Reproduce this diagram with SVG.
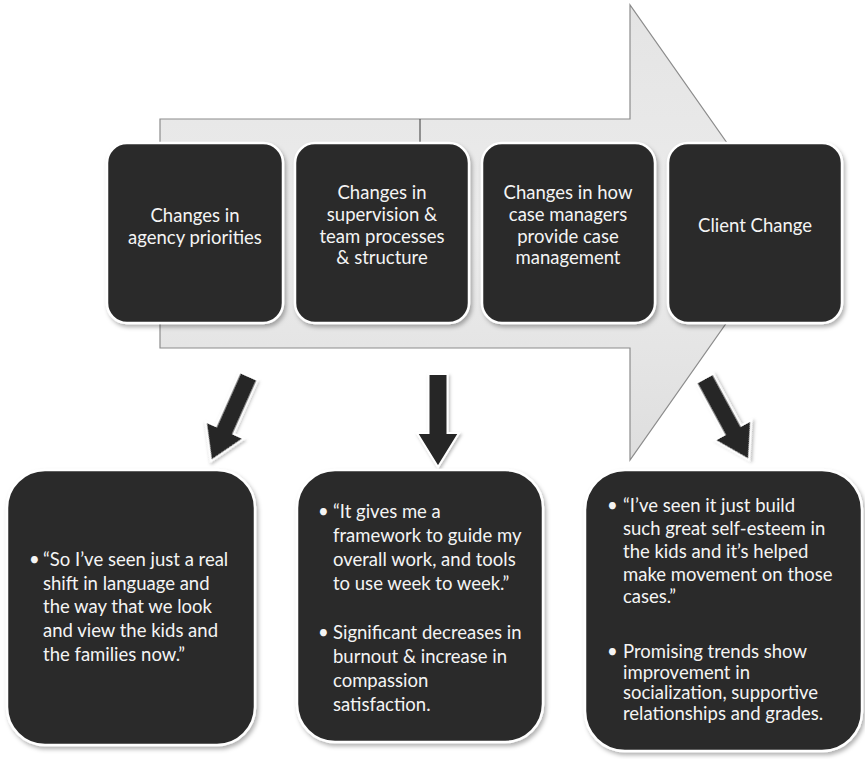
<svg xmlns="http://www.w3.org/2000/svg" width="865" height="759" viewBox="0 0 865 759">
<style>
.box{fill:#2b2b2b;stroke:#ffffff;stroke-width:2.5;filter:url(#sh)}
.t{font-family:Lato,"Liberation Sans",sans-serif;font-size:18.5px;fill:#f4f4f4}
.tc{text-anchor:middle}
.dn{fill:#262626;stroke:#ffffff;stroke-width:2;filter:url(#sh2)}
</style>
<defs>
<linearGradient id="ag" x1="0" y1="0" x2="0" y2="1">
<stop offset="0" stop-color="#e4e4e4"/>
<stop offset="0.5" stop-color="#ececec"/>
<stop offset="1" stop-color="#dedede"/>
</linearGradient>
<filter id="sh" x="-10%" y="-10%" width="125%" height="125%">
<feDropShadow dx="2" dy="3" stdDeviation="2" flood-color="#000" flood-opacity="0.3"/>
</filter>
<filter id="sh2" x="-30%" y="-30%" width="160%" height="160%">
<feDropShadow dx="1.5" dy="2" stdDeviation="1.5" flood-color="#000" flood-opacity="0.25"/>
</filter>
<path id="dArrow" d="M-9.5,-93 L9.5,-93 L9.5,-34 L21,-34 L0,0 L-21,-34 L-9.5,-34 Z"/>
</defs>
<rect width="865" height="759" fill="#ffffff"/>

<g id="bigArrow">
<path d="M160,119 L630,119 L630,5 L790,232.5 L630,460 L630,348 L160,348 Z" fill="url(#ag)" stroke="#8c8c8c" stroke-width="1.2"/>
<line x1="420" y1="119" x2="420" y2="143" stroke="#555" stroke-width="1.2"/>
</g>

<g id="connectors">
<use href="#dArrow" class="dn" transform="translate(211,461) rotate(24)"/>
<use href="#dArrow" class="dn" transform="translate(438,467)"/>
<use href="#dArrow" class="dn" transform="translate(749,460) rotate(-28.5)"/>
</g>

<g id="n1">
<rect class="box" x="107" y="143" width="176" height="180" rx="20"/>
<text class="t tc" x="195" y="222">Changes in</text>
<text class="t tc" x="195" y="244">agency priorities</text>
</g>
<g id="n2">
<rect class="box" x="295" y="143" width="174" height="180" rx="20"/>
<text class="t tc" x="382" y="199">Changes in</text>
<text class="t tc" x="382" y="221">supervision &amp;</text>
<text class="t tc" x="382" y="243">team processes</text>
<text class="t tc" x="382" y="264">&amp; structure</text>
</g>
<g id="n3">
<rect class="box" x="482" y="143" width="173" height="180" rx="20"/>
<text class="t tc" x="568" y="199">Changes in how</text>
<text class="t tc" x="568" y="221">case managers</text>
<text class="t tc" x="568" y="243">provide case</text>
<text class="t tc" x="568" y="264">management</text>
</g>
<g id="n4">
<rect class="box" x="668" y="143" width="174" height="180" rx="20"/>
<text class="t tc" x="755" y="232">Client Change</text>
</g>

<g id="b1">
<rect class="box" x="7" y="470" width="248" height="275" rx="38"/>
<text class="t" x="29" y="566">•</text>
<text class="t" x="43" y="566">“So I’ve seen just a real</text>
<text class="t" x="43" y="590">shift in language and</text>
<text class="t" x="43" y="613">the way that we look</text>
<text class="t" x="43" y="637">and view the kids and</text>
<text class="t" x="43" y="661">the families now.”</text>
</g>
<g id="b2">
<rect class="box" x="297" y="470" width="246" height="272" rx="38"/>
<text class="t" x="318" y="518">•</text>
<text class="t" x="333" y="518">“It gives me a</text>
<text class="t" x="333" y="542">framework to guide my</text>
<text class="t" x="333" y="566">overall work, and tools</text>
<text class="t" x="333" y="590">to use week to week.”</text>
<text class="t" x="318" y="639">•</text>
<text class="t" x="333" y="639">Significant decreases in</text>
<text class="t" x="333" y="663">burnout &amp; increase in</text>
<text class="t" x="333" y="687">compassion</text>
<text class="t" x="333" y="711">satisfaction.</text>
</g>
<g id="b3">
<rect class="box" x="585" y="470" width="277" height="281" rx="40"/>
<text class="t" x="607" y="512">•</text>
<text class="t" x="623" y="512">“I’ve seen it just build</text>
<text class="t" x="623" y="535">such great self-esteem in</text>
<text class="t" x="623" y="558">the kids and it’s helped</text>
<text class="t" x="623" y="581">make movement on those</text>
<text class="t" x="623" y="603">cases.”</text>
<text class="t" x="607" y="658">•</text>
<text class="t" x="623" y="658">Promising trends show</text>
<text class="t" x="623" y="679">improvement in</text>
<text class="t" x="623" y="699">socialization, supportive</text>
<text class="t" x="623" y="720">relationships and grades.</text>
</g>
</svg>
